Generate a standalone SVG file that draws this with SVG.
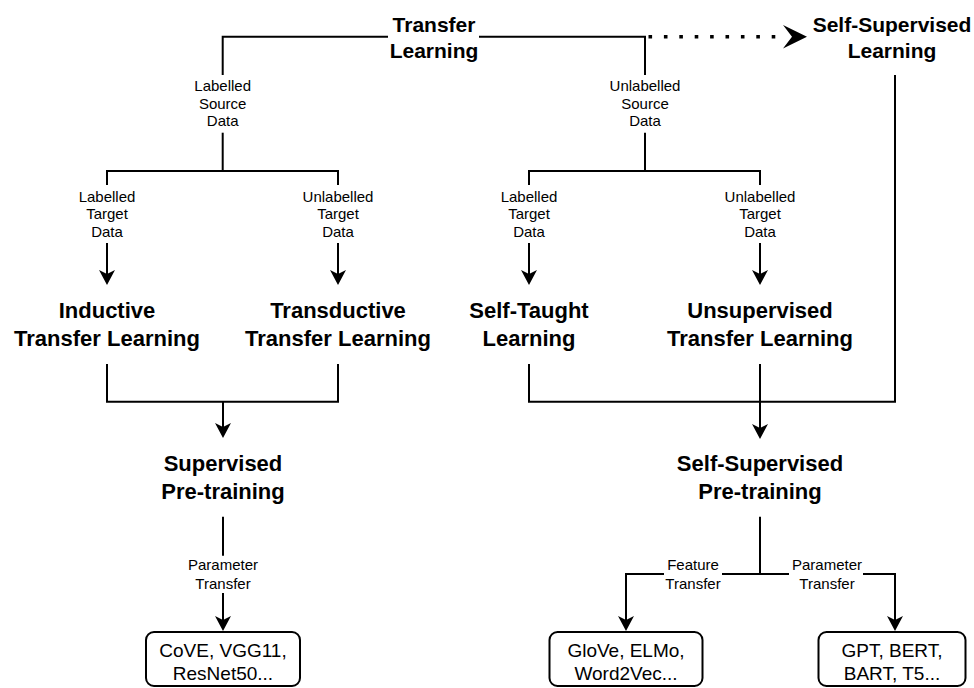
<svg xmlns="http://www.w3.org/2000/svg" width="974" height="688" viewBox="0 0 974 688">
<style>
.ln{fill:none;stroke:#000;stroke-width:2}
.dot{fill:none;stroke:#000;stroke-width:3.6;stroke-dasharray:3.6 11.8}
.t1{font-family:"Liberation Sans",Arial,sans-serif;font-weight:bold;font-size:21px;text-anchor:middle;fill:#000}
.t2{font-family:"Liberation Sans",Arial,sans-serif;font-weight:bold;font-size:22px;text-anchor:middle;fill:#000}
.lb{font-family:"Liberation Sans",Arial,sans-serif;font-size:15px;text-anchor:middle;fill:#000}
.bx{font-family:"Liberation Sans",Arial,sans-serif;font-size:19px;text-anchor:middle;fill:#000}
.box{fill:#fff;stroke:#000;stroke-width:2}
</style>
<defs>
<marker id="ah" viewBox="0 0 16 16" refX="12" refY="8" markerWidth="16" markerHeight="16" markerUnits="userSpaceOnUse" orient="auto">
<path d="M0,0 L15,8 L0,16 L4,8 Z" fill="#000"/>
</marker>
</defs>
<rect width="974" height="688" fill="#fff"/>
<g id="connectors">
<path class="ln" d="M388,36.7 H222.7 V75"/>
<path class="ln" d="M222.7,132.7 V171"/>
<path class="ln" d="M479,36.7 H645 V75"/>
<path class="ln" d="M645,132.7 V171"/>
<line class="dot" x1="648.5" y1="36.7" x2="785" y2="36.7"/>
<path d="M807,36.7 L783,25 L792,36.7 L783,48.4 Z" fill="#000"/>
<path class="ln" d="M107,185 V171 H338 V185"/>
<path class="ln" d="M529,185 V171 H760 V185"/>
<line class="ln" x1="107" y1="243" x2="107" y2="282" marker-end="url(#ah)"/>
<line class="ln" x1="338" y1="243" x2="338" y2="282" marker-end="url(#ah)"/>
<line class="ln" x1="529" y1="243" x2="529" y2="282" marker-end="url(#ah)"/>
<line class="ln" x1="760" y1="243" x2="760" y2="282" marker-end="url(#ah)"/>
<path class="ln" d="M107,364 V401.7 H338 V364"/>
<line class="ln" x1="223" y1="401.7" x2="223" y2="435" marker-end="url(#ah)"/>
<path class="ln" d="M529,364 V401.7 H895 V75"/>
<line class="ln" x1="760" y1="364" x2="760" y2="436" marker-end="url(#ah)"/>
<line class="ln" x1="223" y1="516.7" x2="223" y2="555.7"/>
<line class="ln" x1="223" y1="593" x2="223" y2="628" marker-end="url(#ah)"/>
<line class="ln" x1="760" y1="516.7" x2="760" y2="574"/>
<path class="ln" d="M664,574 H626 V628" marker-end="url(#ah)"/>
<line class="ln" x1="722" y1="574" x2="789" y2="574"/>
<path class="ln" d="M863,574 H895 V628" marker-end="url(#ah)"/>
<text class="lb"><tspan x="222.7" y="91">Labelled</tspan><tspan x="222.7" y="108.5">Source</tspan><tspan x="222.7" y="126">Data</tspan></text>
<text class="lb"><tspan x="645" y="91">Unlabelled</tspan><tspan x="645" y="108.5">Source</tspan><tspan x="645" y="126">Data</tspan></text>
<text class="lb"><tspan x="107" y="201.5">Labelled</tspan><tspan x="107" y="219">Target</tspan><tspan x="107" y="236.5">Data</tspan></text>
<text class="lb"><tspan x="338" y="201.5">Unlabelled</tspan><tspan x="338" y="219">Target</tspan><tspan x="338" y="236.5">Data</tspan></text>
<text class="lb"><tspan x="529" y="201.5">Labelled</tspan><tspan x="529" y="219">Target</tspan><tspan x="529" y="236.5">Data</tspan></text>
<text class="lb"><tspan x="760" y="201.5">Unlabelled</tspan><tspan x="760" y="219">Target</tspan><tspan x="760" y="236.5">Data</tspan></text>
<text class="lb"><tspan x="223" y="570.4">Parameter</tspan><tspan x="223" y="588.5">Transfer</tspan></text>
<text class="lb"><tspan x="693" y="570.4">Feature</tspan><tspan x="693" y="588.5">Transfer</tspan></text>
<text class="lb"><tspan x="827" y="570.4">Parameter</tspan><tspan x="827" y="588.5">Transfer</tspan></text>
</g>
<g id="transfer-learning"><text class="t1"><tspan x="434" y="31.5">Transfer</tspan><tspan x="434" y="57.5">Learning</tspan></text></g>
<g id="self-supervised-learning"><text class="t1"><tspan x="892" y="31.5">Self-Supervised</tspan><tspan x="892" y="57.5">Learning</tspan></text></g>
<g id="inductive"><text class="t2"><tspan x="107" y="318">Inductive</tspan><tspan x="107" y="345.5">Transfer Learning</tspan></text></g>
<g id="transductive"><text class="t2"><tspan x="338" y="318">Transductive</tspan><tspan x="338" y="345.5">Transfer Learning</tspan></text></g>
<g id="self-taught"><text class="t2"><tspan x="529" y="318">Self-Taught</tspan><tspan x="529" y="345.5">Learning</tspan></text></g>
<g id="unsupervised"><text class="t2"><tspan x="760" y="318">Unsupervised</tspan><tspan x="760" y="345.5">Transfer Learning</tspan></text></g>
<g id="supervised-pretraining"><text class="t2"><tspan x="223" y="471">Supervised</tspan><tspan x="223" y="499">Pre-training</tspan></text></g>
<g id="self-supervised-pretraining"><text class="t2"><tspan x="760" y="471">Self-Supervised</tspan><tspan x="760" y="499">Pre-training</tspan></text></g>
<g id="box-cove"><rect class="box" x="146" y="632" width="154" height="54" rx="8"/><text class="bx"><tspan x="223" y="656.7">CoVE, VGG11,</tspan><tspan x="223" y="680">ResNet50...</tspan></text></g>
<g id="box-glove"><rect class="box" x="549.5" y="632" width="153" height="54" rx="8"/><text class="bx"><tspan x="626" y="656.7">GloVe, ELMo,</tspan><tspan x="626" y="680">Word2Vec...</tspan></text></g>
<g id="box-gpt"><rect class="box" x="818.5" y="632" width="147" height="54" rx="8"/><text class="bx"><tspan x="892" y="656.7">GPT, BERT,</tspan><tspan x="892" y="680">BART, T5...</tspan></text></g>
</svg>
